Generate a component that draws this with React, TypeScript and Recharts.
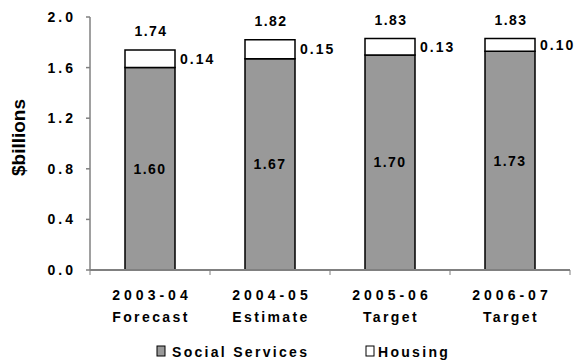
import React from "react";
import {
  BarChart,
  Bar,
  XAxis,
  YAxis,
  LabelList,
  Legend,
} from "recharts";

// Fiscal years and their status (two-line category ticks)
const years = ["2003-04", "2004-05", "2005-06", "2006-07"];
const phases = ["Forecast", "Estimate", "Target", "Target"];

// Spending in $ billions
const socialServices = [1.6, 1.67, 1.7, 1.73];
const housing = [0.14, 0.15, 0.13, 0.1];
const totals = [1.74, 1.82, 1.83, 1.83];

const yTicks = [0, 0.4, 0.8, 1.2, 1.6, 2.0];

const data = years.map((y, i) => ({
  year: y,
  phase: phases[i],
  social: socialServices[i],
  housing: housing[i],
  total: totals[i],
}));

const FONT = "'Liberation Sans', Arial, sans-serif";
const AXIS = "#808080";
const BAND = 120;

// Two-line category label plus the small tick marks between categories
const CategoryTick = (props: any) => {
  const { x, y, payload, index } = props;
  const d = data[index] ?? data[0];
  return (
    <g>
      <line x1={x - BAND / 2} x2={x - BAND / 2} y1={y - 2} y2={y + 3} stroke={AXIS} />
      {index === data.length - 1 && (
        <line x1={x + BAND / 2} x2={x + BAND / 2} y1={y - 2} y2={y + 3} stroke={AXIS} />
      )}
      <text
        x={x + 2}
        y={y + 28}
        textAnchor="middle"
        fontFamily={FONT}
        fontWeight="bold"
        fontSize={14}
        letterSpacing={4}
        fill="#000"
      >
        {payload.value}
      </text>
      <text
        x={x + 1}
        y={y + 50}
        textAnchor="middle"
        fontFamily={FONT}
        fontWeight="bold"
        fontSize={14}
        letterSpacing={2.4}
        fill="#000"
      >
        {d.phase}
      </text>
    </g>
  );
};

// Total shown above each stacked bar
const TotalLabel = (props: any) => {
  const { x, y, width, index } = props;
  return (
    <text
      x={x + width / 2 + 1}
      y={y - 14}
      textAnchor="middle"
      fontFamily={FONT}
      fontWeight="bold"
      fontSize={14}
      letterSpacing={1.5}
      fill="#000"
    >
      {totals[index].toFixed(2)}
    </text>
  );
};

const YTitle = (props: any) => {
  const { viewBox } = props;
  const cy = viewBox.y + viewBox.height / 2 - 6;
  return (
    <text
      x={0}
      y={0}
      transform={`translate(25, ${cy}) rotate(-90)`}
      textAnchor="middle"
      fontFamily={FONT}
      fontWeight="bold"
      fontSize={19}
      fill="#000"
    >
      $billions
    </text>
  );
};

const LegendContent = () => (
  <svg width={574} height={42}>
    <rect x={157} y={26} width={8} height={10} fill="#999999" stroke="#000" strokeWidth={1} />
    <text x={172} y={37} fontFamily={FONT} fontWeight="bold" fontSize={14} letterSpacing={2.3}>
      Social Services
    </text>
    <rect x={366} y={26} width={8} height={10} fill="#fff" stroke="#000" strokeWidth={1} />
    <text x={378} y={37} fontFamily={FONT} fontWeight="bold" fontSize={14} letterSpacing={2.3}>
      Housing
    </text>
  </svg>
);

export default function App() {
  return (
    <div style={{ position: "fixed", left: 0, top: 0, background: "#fff" }}>
      <BarChart
        width={574}
        height={362}
        data={data}
        margin={{ top: 17, right: 4, left: 0, bottom: 0 }}
      >
        <XAxis
          dataKey="year"
          height={50}
          stroke={AXIS}
          strokeWidth={2}
          tickLine={false}
          tickSize={0}
          interval={0}
          tick={<CategoryTick />}
        />
        <YAxis
          width={90}
          domain={[0, 2]}
          ticks={yTicks}
          stroke={AXIS}
          strokeWidth={1.5}
          tickSize={4}
          tickMargin={10}
          tickFormatter={(v: number) => v.toFixed(1)}
          tick={{ fontFamily: FONT, fontWeight: "bold", fontSize: 14, fill: "#000", letterSpacing: 3 }}
          label={<YTitle />}
        />
        <Legend verticalAlign="bottom" height={42} content={<LegendContent />} />
        <Bar
          dataKey="social"
          stackId="a"
          fill="#999999"
          stroke="#000"
          strokeWidth={1.5}
          barSize={50}
          isAnimationActive={false}
        >
          <LabelList
            dataKey="social"
            position="center"
            formatter={(v: any) => Number(v).toFixed(2)}
            style={{ fontFamily: FONT, fontWeight: "bold", fontSize: 14, fill: "#000", letterSpacing: 1.5 }}
          />
        </Bar>
        <Bar
          dataKey="housing"
          stackId="a"
          fill="#ffffff"
          stroke="#000"
          strokeWidth={1.5}
          barSize={50}
          isAnimationActive={false}
        >
          <LabelList
            dataKey="housing"
            position="right"
            offset={5}
            formatter={(v: any) => Number(v).toFixed(2)}
            style={{ fontFamily: FONT, fontWeight: "bold", fontSize: 14, fill: "#000", letterSpacing: 2 }}
          />
          <LabelList dataKey="total" content={<TotalLabel />} />
        </Bar>
      </BarChart>
    </div>
  );
}
